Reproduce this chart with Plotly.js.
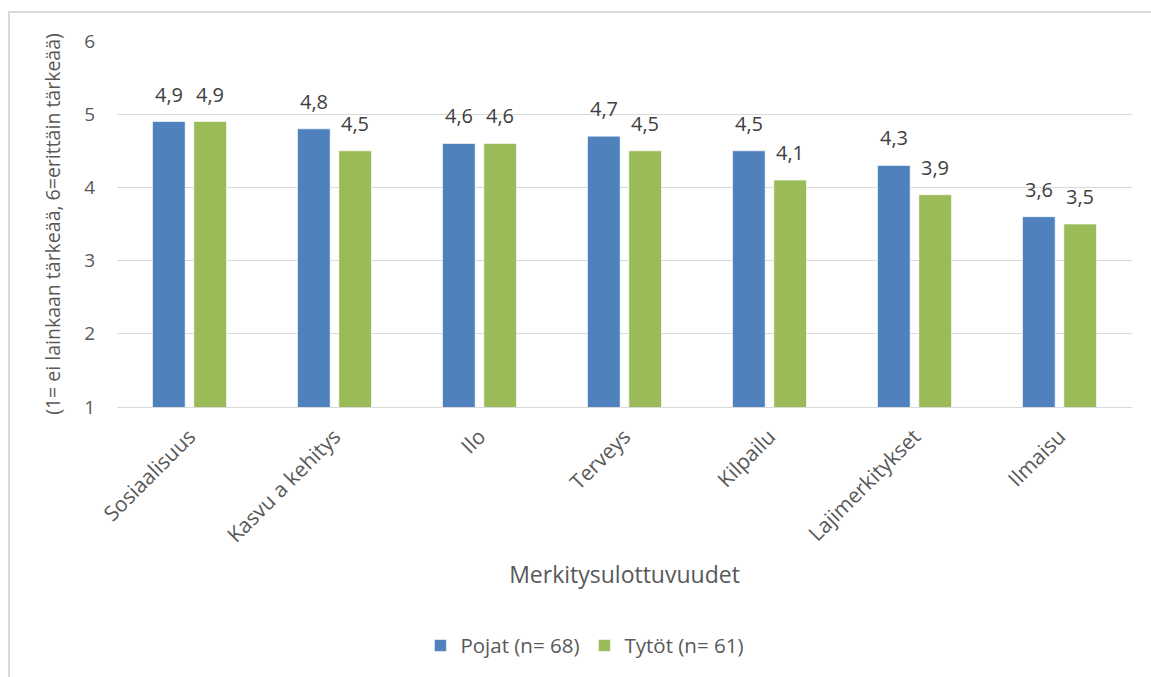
<!DOCTYPE html>
<html>
<head>
<meta charset="utf-8">
<script src="https://cdn.plot.ly/plotly-3.0.1.min.js"></script>
<style>
  html, body { margin: 0; padding: 0; background: #ffffff; }
  #wrap { position: relative; width: 1151px; height: 677px; overflow: hidden; }
  #chart { position: absolute; left: 0; top: 0; width: 1151px; height: 677px; }
  #frame {
    position: absolute; left: 8px; top: 11px; width: 1200px; height: 720px;
    border-left: 2px solid #d9d9d9; border-top: 2px solid #d9d9d9;
    pointer-events: none; z-index: 5;
  }
</style>
</head>
<body>
<div id="wrap">
  <div id="chart"></div>
  <div id="frame"></div>
</div>
<script>
// Merkitysulottuvuudet: keskiarvot asteikolla 1–6
const categories = ['Sosiaalisuus', 'Kasvu a kehitys', 'Ilo', 'Terveys', 'Kilpailu', 'Lajimerkitykset', 'Ilmaisu'];
const pojat = [4.9, 4.8, 4.6, 4.7, 4.5, 4.3, 3.6];
const tytot = [4.9, 4.5, 4.6, 4.5, 4.1, 3.9, 3.5];
const seriesNames = ['Pojat (n= 68)', 'Tytöt (n= 61)'];
const yTicks = [1, 2, 3, 4, 5, 6];

const fontFamily = '"Open Sans", "Noto Sans", "DejaVu Sans", sans-serif';
const fmt = v => v.toFixed(1).replace('.', ',');

const W = 1151, H = 677;
const margin = { l: 117, r: 19, t: 41, b: 270, pad: 0 };
const bargap = 0.43;
const plotWidth = W - margin.l - margin.r;
// half of one bar slot inside a group: horizontal offset of each series' label
const slotHalf = (plotWidth / categories.length) * (1 - bargap) / 4;

function barTrace(name, values, color) {
  return {
    type: 'bar',
    name: name,
    x: categories,
    y: values,
    marker: { color: color, line: { color: 'rgba(255,255,255,0.6)', width: 1 } },
    hoverinfo: 'x+y'
  };
}

const data = [
  barTrace(seriesNames[0], pojat, '#4f81bd'),
  barTrace(seriesNames[1], tytot, '#9bbb59')
];

// value labels above each bar
function valueLabels(values, shiftX) {
  return values.map((v, i) => ({
    x: categories[i], y: v, xref: 'x', yref: 'y',
    text: fmt(v), showarrow: false,
    xanchor: 'center', yanchor: 'bottom',
    xshift: shiftX, yshift: 12,
    font: { family: fontFamily, size: 20, color: '#404040' }
  }));
}

const layout = {
  width: W,
  height: H,
  margin: margin,
  paper_bgcolor: '#ffffff',
  plot_bgcolor: '#ffffff',
  font: { family: fontFamily, size: 19, color: '#595959' },
  barmode: 'group',
  bargap: bargap,
  bargroupgap: 0.21,
  showlegend: true,
  legend: {
    orientation: 'h',
    x: 0.461, xanchor: 'center',
    y: -0.652, yanchor: 'middle',
    font: { family: fontFamily, size: 20.5, color: '#595959' },
    itemwidth: 30,
    traceorder: 'normal'
  },
  annotations: valueLabels(pojat, -slotHalf).concat(valueLabels(tytot, slotHalf)),
  xaxis: {
    type: 'category',
    tickangle: -45,
    tickfont: { family: fontFamily, size: 21, color: '#595959' },
    ticklabelstandoff: 8,
    showline: true,
    linecolor: '#d9d9d9',
    linewidth: 1,
    ticks: '',
    showgrid: false,
    title: {
      text: 'Merkitysulottuvuudet',
      font: { family: fontFamily, size: 23, color: '#595959' },
      standoff: 19
    }
  },
  yaxis: {
    range: [1, 6],
    tickvals: yTicks,
    ticktext: yTicks.map(String),
    showgrid: true,
    gridcolor: '#d9d9d9',
    gridwidth: 1,
    zeroline: false,
    showline: false,
    ticks: '',
    ticklabelstandoff: 21,
    tickfont: { family: fontFamily, size: 19, color: '#595959' },
    title: {
      text: '(1= ei lainkaan tärkeää, 6=erittäin tärkeää)',
      font: { family: fontFamily, size: 19.5, color: '#595959' },
      standoff: 18
    }
  }
};

Plotly.newPlot('chart', data, layout, { staticPlot: true, displayModeBar: false });
</script>
</body>
</html>
